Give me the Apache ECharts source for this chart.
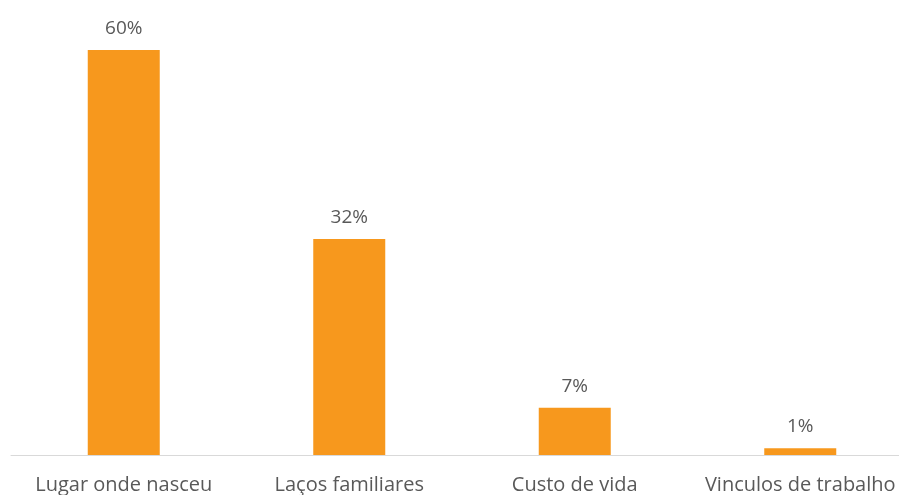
<!DOCTYPE html>
<html><head><meta charset="utf-8">
<script src="https://cdn.jsdelivr.net/npm/echarts@6/dist/echarts.min.js"></script>
<style>html,body{margin:0;padding:0;background:#fff;overflow:hidden}#c{width:913px;height:495px}</style>
</head><body><div id="c"></div>
<script>
const categories = ['Lugar onde nasceu', 'Laços familiares', 'Custo de vida', 'Vinculos de trabalho'];
const values = [60, 32, 7, 1];
const chart = echarts.init(document.getElementById('c'));
chart.setOption({
  animation: false,
  grid: { left: 11, right: 0, top: 50, bottom: 40, containLabel: false },
  xAxis: {
    type: 'category', data: categories,
    axisLine: { lineStyle: { color: '#d9d9d9', width: 1 } },
    axisTick: { show: false },
    axisLabel: { color: '#595959', fontSize: 20, fontFamily: 'Open Sans', margin: 20, interval: 0 }
  },
  yAxis: { type: 'value', min: 0, max: 60, show: false, splitLine: { show: false } },
  series: [{
    type: 'bar', data: values, barWidth: 72,
    itemStyle: { color: '#F7981D' },
    label: { show: true, position: 'top', distance: 12, color: '#595959', fontSize: 19, fontFamily: 'Open Sans', formatter: '{c}%' }
  }]
});
</script></body></html>
